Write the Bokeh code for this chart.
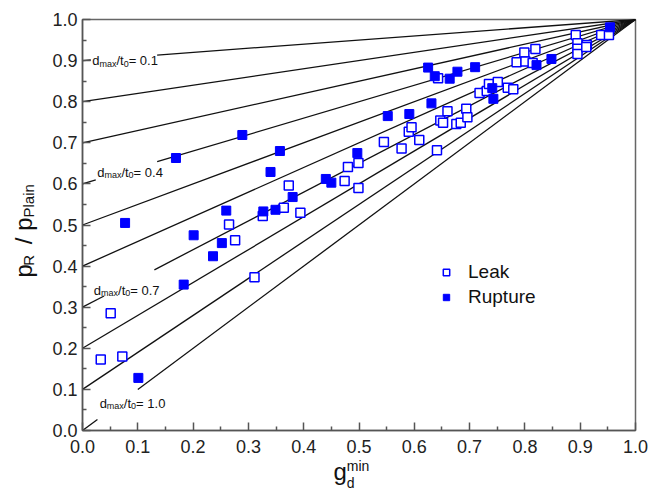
import math
from bokeh.plotting import figure
from bokeh.models import Range1d, FixedTicker, PrintfTickFormatter, Label, Legend, LegendItem
from bokeh.embed import file_html
from bokeh.resources import INLINE

# ---------------- data ----------------
leak_x = [0.033, 0.051, 0.072, 0.265, 0.276, 0.311, 0.326, 0.364, 0.373, 0.394,
          0.474, 0.480, 0.499, 0.499, 0.545, 0.577, 0.590, 0.595, 0.609, 0.641,
          0.643, 0.647, 0.652, 0.660, 0.676, 0.684, 0.694, 0.696, 0.718, 0.731,
          0.735, 0.751, 0.769, 0.779, 0.785, 0.799, 0.801, 0.814, 0.819, 0.892,
          0.895, 0.895, 0.895, 0.912, 0.911, 0.938, 0.952]
leak_y = [0.173, 0.285, 0.180, 0.501, 0.463, 0.373, 0.522, 0.542, 0.596, 0.530,
          0.607, 0.641, 0.590, 0.651, 0.702, 0.686, 0.727, 0.738, 0.707, 0.682,
          0.857, 0.754, 0.749, 0.777, 0.746, 0.749, 0.783, 0.762, 0.821, 0.826,
          0.843, 0.848, 0.834, 0.830, 0.896, 0.920, 0.898, 0.894, 0.928, 0.962,
          0.942, 0.929, 0.916, 0.938, 0.933, 0.962, 0.962]

rupture_x = [0.077, 0.101, 0.169, 0.183, 0.201, 0.236, 0.252, 0.260, 0.289, 0.327,
             0.340, 0.349, 0.357, 0.380, 0.440, 0.450, 0.497, 0.552, 0.591, 0.625,
             0.631, 0.637, 0.664, 0.678, 0.710, 0.741, 0.743, 0.821, 0.848, 0.954]
rupture_y = [0.505, 0.128, 0.663, 0.355, 0.475, 0.424, 0.456, 0.535, 0.719, 0.533,
             0.629, 0.537, 0.680, 0.568, 0.612, 0.603, 0.675, 0.765, 0.770, 0.883,
             0.796, 0.862, 0.856, 0.873, 0.884, 0.833, 0.807, 0.889, 0.904, 0.981]

# reference lines: d_max/t_0 ratios; each line runs from (0, 1-k) to (1, 1)
ratio_k = [0.1, 0.2, 0.3, 0.4, 0.5, 0.6, 0.7, 0.8, 0.9, 1.0]
labelled_k = [0.1, 0.4, 0.7, 1.0]
label_text = ["0.1", "0.4", "0.7", "1.0"]

x_ticks = [0.0, 0.1, 0.2, 0.3, 0.4, 0.5, 0.6, 0.7, 0.8, 0.9, 1.0]
y_ticks = [0.0, 0.1, 0.2, 0.3, 0.4, 0.5, 0.6, 0.7, 0.8, 0.9, 1.0]
minor_ticks = [0.05, 0.15, 0.25, 0.35, 0.45, 0.55, 0.65, 0.75, 0.85, 0.95]

# ---------------- layout / style ----------------
W, H = 651, 489
BL, BR, BT, BB = 82, 16, 19, 59
FW, FH = W - BL - BR, H - BT - BB
FONT = "Liberation Sans"
BLUE = "#0000ff"
AXC = "#555555"
NB = "\u00a0"

# gaps in the labelled lines (x where line stops / resumes) and label anchors
gap_from = [0.015, 0.024, 0.039, 0.027]
gap_to = [0.135, 0.135, 0.130, 0.100]
label_x = [0.0175, 0.0265, 0.0205, 0.031]
label_y = [0.900, 0.628, 0.341, 0.066]

ADV = {"d": .556, "m": .833, "a": .556, "x": .5, "/": .278, "t": .278, "0": .556,
       "1": .556, "4": .556, "7": .556, ".": .278, "=": .584, " ": .278, "p": .556,
       "R": .722, "P": .667, "l": .222, "i": .222, "n": .556, "g": .556, NB: .278}


def adv(s, size):
    return sum(ADV.get(c, 0.556) for c in s) * size


def px_x(px):
    return (px - BL) / FW


def px_y(py):
    return (H - BB - py) / FH


p = figure(width=W, height=H, output_backend="svg", toolbar_location=None,
           x_range=Range1d(0, 1), y_range=Range1d(0, 1),
           min_border_left=BL, min_border_right=BR, min_border_top=BT, min_border_bottom=BB)
p.grid.visible = False
p.outline_line_color = "#666666"
p.outline_line_width = 1.5
p.background_fill_color = "white"
p.border_fill_color = "white"

for ax, ticks in ((p.xaxis, x_ticks), (p.yaxis, y_ticks)):
    ax.ticker = FixedTicker(ticks=ticks, minor_ticks=minor_ticks)
    ax.formatter = PrintfTickFormatter(format="%.1f")
    ax.axis_line_color = AXC
    ax.axis_line_width = 1.5
    ax.major_tick_line_color = AXC
    ax.minor_tick_line_color = AXC
    ax.major_tick_line_width = 1.5
    ax.minor_tick_line_width = 1.5
    ax.major_tick_in = 8
    ax.major_tick_out = 0
    ax.minor_tick_in = 4
    ax.minor_tick_out = 0
    ax.major_label_text_font = FONT
    ax.major_label_text_font_size = "18px"
    ax.major_label_text_color = "#222222"
p.xaxis.major_label_standoff = 9
p.yaxis.major_label_standoff = 5

# reference lines
xs, ys = [], []
for k in ratio_k:
    y0 = 1 - k
    if k in labelled_k:
        i = labelled_k.index(k)
        a, b = gap_from[i], gap_to[i]
        xs.append([0, a]); ys.append([y0, y0 + k * a])
        xs.append([b, 1]); ys.append([y0 + k * b, 1])
    else:
        xs.append([0, 1]); ys.append([y0, 1])
p.multi_line(xs, ys, line_color="#111111", line_width=1.3)

r_leak = p.scatter(leak_x, leak_y, marker="square", size=9, fill_color="white",
                   line_color=BLUE, line_width=1.5)
r_rup = p.scatter(rupture_x, rupture_y, marker="square", size=9, fill_color=BLUE,
                  line_color=BLUE, line_width=1)

legend = Legend(items=[LegendItem(label="Leak", renderers=[r_leak]),
                       LegendItem(label="Rupture", renderers=[r_rup])],
                location=(356, 122), glyph_width=16, glyph_height=22, label_standoff=14,
                spacing=3, padding=0, margin=0, border_line_alpha=0,
                background_fill_alpha=0, label_text_font=FONT,
                label_text_font_size="19px", label_text_color="#111111")
p.add_layout(legend)


def make_label(x, y, text, size, angle=0.0, x_offset=0):
    return Label(x=x, y=y, text=text, text_font=FONT, text_font_size=f"{size}px",
                 text_color="#111111", angle=angle, x_offset=x_offset,
                 text_align="left", text_baseline="alphabetic")


# line labels  d_max/t_0= v  (inside the frame)
for i, v in enumerate(label_text):
    x0, yb = label_x[i], label_y[i]
    pieces = [("d", 13, 0), ("max", 9, 3), ("/t", 13, 0), ("0", 9, 3), ("= " + v, 13, 0)]
    off = 0.0
    for txt, sz, dy in pieces:
        p.add_layout(make_label(x0, yb - dy / FH, txt, sz, x_offset=off))
        off += adv(txt, sz)

# y axis title  p_R / p_Plain (rotated) -- placed in the left side panel (not clipped)
ybase = 277
main_txt = "p" + NB * 3 + "/" + NB + "p"
p.add_layout(make_label(px_x(23), px_y(ybase), main_txt, 24, angle=math.pi / 2), "left")
plain_start = adv(main_txt, 24)
sub_txt = "R" + NB * 9 + "Plain"
sub_start = plain_start - adv("R" + NB * 9, 15)
p.add_layout(make_label(px_x(28), px_y(ybase - sub_start), sub_txt, 15, angle=math.pi / 2), "left")

# x axis title  g_d^min  (pieces spread over side panels so that none is clipped)
gx = 333
p.add_layout(make_label(px_x(gx), px_y(471), "g", 24), "below")
sx = gx + adv("g", 24)
p.add_layout(make_label(px_x(sx), px_y(465), "min", 14), "above")
p.add_layout(make_label(px_x(sx), px_y(482), "d", 14), "right")

open("out.html", "w").write(file_html(p, INLINE))
